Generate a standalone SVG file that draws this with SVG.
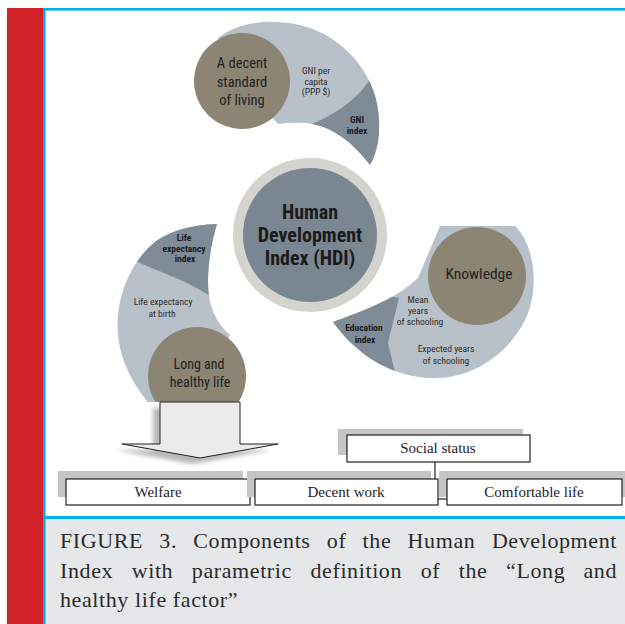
<svg xmlns="http://www.w3.org/2000/svg" width="625" height="624" viewBox="0 0 625 624">
<style>
.fig{font-family:'Liberation Sans Narrow','Roboto Condensed','DejaVu Sans Condensed','Liberation Sans',Arial,sans-serif;fill:#222;text-anchor:middle}
.big{font-size:14.5px}
.sm{font-size:9.5px;fill:#2a2a2a}
.smb{font-size:9.5px;font-weight:bold;fill:#1a1a1a}
.hdi{font-family:'Liberation Sans Narrow','Roboto Condensed','Liberation Sans',Arial,sans-serif;font-size:20px;font-weight:bold;fill:#1a1a1a;text-anchor:middle}
.light{fill:#b8c1ca}
.dark{fill:#7f8b97}
.brown{fill:#8c8574}
.box{fill:#fff;stroke:#222;stroke-width:1.2}
.shadow{fill:#c6c6c6}
.bt{font-family:'Liberation Serif','Times New Roman',serif;font-size:15px;fill:#1c1c30;text-anchor:middle}
.cap{font-family:'Liberation Serif','Times New Roman',serif;font-size:22px;fill:#2b2b2b;letter-spacing:0.6px}
.conn{stroke:#222;stroke-width:1.2;fill:none}
</style>
<defs>
<clipPath id="figclip"><rect x="45" y="10" width="580" height="392"/></clipPath>
<path id="topShape" d="M218,38 C238,22 275,16 310,28 C350,42 378,80 379,120 C380,140 376,155 370,165 C355,145 335,128 312,124 C300,122 290,123 278,124 L242,81 Z"/>
<path id="leftShape" d="M217,224 C212,240 208,262 208,282 C208,305 215,322 230,335 L200,405 L150,405 C125,375 115,345 118,315 C121,285 135,258 155,242 C170,231 190,225 217,224 Z"/>
<path id="rightShape" d="M333,322 C360,312 395,300 418,278 L440,226 L515,226 C535,245 540,290 525,320 C510,350 480,375 440,378 C400,380 360,360 333,322 Z"/>
<clipPath id="cTop"><use href="#topShape"/></clipPath>
<clipPath id="cLeft"><use href="#leftShape"/></clipPath>
<clipPath id="cRight"><use href="#rightShape"/></clipPath>
<filter id="blur" x="-20%" y="-20%" width="140%" height="140%"><feGaussianBlur stdDeviation="2"/></filter>
</defs>

<!-- frame -->
<rect x="45" y="10" width="580" height="507" fill="#fff"/>
<rect x="45" y="519" width="580" height="105" fill="#e6e7e9"/>
<rect x="7" y="8" width="36" height="616" fill="#d2232a"/>
<rect x="43" y="8" width="582" height="2.6" fill="#00aeef"/>
<rect x="43" y="8" width="2.6" height="616" fill="#00aeef"/>
<rect x="45" y="516" width="580" height="3" fill="#00aeef"/>

<g clip-path="url(#figclip)">
<g id="standard-of-living">
<use href="#topShape" class="light"/>
<path class="dark" clip-path="url(#cTop)" d="M312,124 C335,114 358,100 372,76 L400,60 L400,200 L300,200 Z"/>
<circle class="brown" cx="242" cy="81" r="48"/>
<text class="fig big"><tspan x="242" y="68">A decent</tspan><tspan x="242" y="87">standard</tspan><tspan x="242" y="105">of living</tspan></text>
<text class="fig sm"><tspan x="316" y="74">GNI per</tspan><tspan x="316" y="85">capita</tspan><tspan x="316" y="95">(PPP $)</tspan></text>
<text class="fig smb"><tspan x="357" y="123">GNI</tspan><tspan x="357" y="134">index</tspan></text>
</g>

<g id="hdi">
<circle cx="310" cy="235" r="77" fill="#d5d3cd"/>
<circle cx="310" cy="235" r="67" fill="#7a8692"/>
<text class="hdi"><tspan x="310" y="219">Human</tspan><tspan x="310" y="242">Development</tspan><tspan x="310" y="265">Index (HDI)</tspan></text>
</g>

<g id="long-healthy-life">
<use href="#leftShape" class="light"/>
<path class="dark" clip-path="url(#cLeft)" d="M128,258 C160,272 190,282 210,296 L240,200 L100,200 Z"/>
<circle class="brown" cx="197" cy="376" r="49"/>
<text class="fig smb"><tspan x="184" y="241">Life</tspan><tspan x="184" y="252">expectancy</tspan><tspan x="185" y="262">index</tspan></text>
<text class="fig sm"><tspan x="163" y="305">Life expectancy</tspan><tspan x="162" y="317">at birth</tspan></text>
<text class="fig" style="font-size:14px"><tspan x="199" y="369">Long and</tspan><tspan x="200" y="387">healthy life</tspan></text>
</g>

<g id="knowledge">
<use href="#rightShape" class="light"/>
<path class="dark" clip-path="url(#cRight)" d="M399,298 L388,343 L398,385 L300,400 L300,280 Z"/>
<circle class="brown" cx="477" cy="276" r="49"/>
<text class="fig" style="font-size:15.5px" x="479" y="279">Knowledge</text>
<text class="fig sm"><tspan x="418" y="303">Mean</tspan><tspan x="418" y="314">years</tspan><tspan x="420" y="325">of schooling</tspan></text>
<text class="fig smb"><tspan x="364" y="331">Education</tspan><tspan x="365" y="343">index</tspan></text>
<text class="fig sm"><tspan x="446" y="352">Expected years</tspan><tspan x="446" y="364">of schooling</tspan></text>
</g>
</g>

<g id="arrow">
<path d="M160,402 L240,402 L240,444 L278,444 L200,458 L122,444 L160,444 Z" transform="translate(-7,6)" fill="#b8b8b8" filter="url(#blur)"/>
<path d="M160,402 L240,402 L240,444 L278,444 L200,458 L122,444 L160,444 Z" fill="#ebebeb" stroke="#222" stroke-width="1"/>
</g>

<g id="connectors">
<line class="conn" x1="435" y1="462" x2="435" y2="480"/>
<line class="conn" x1="438" y1="499" x2="447" y2="499" stroke-width="1.6"/>
<line x1="250" y1="492" x2="255" y2="492" stroke="#888" stroke-width="1"/>
</g>

<g id="social-status">
<rect class="shadow" x="338" y="429" width="185" height="26"/>
<rect class="box" x="347" y="435" width="183" height="27"/>
<text class="bt" x="438" y="453">Social status</text>
</g>
<g id="welfare">
<rect class="shadow" x="58" y="471" width="185" height="26"/>
<rect class="box" x="66" y="479" width="184" height="26"/>
<text class="bt" x="158" y="497">Welfare</text>
</g>
<g id="decent-work">
<rect class="shadow" x="247" y="471" width="184" height="26"/>
<rect class="box" x="255" y="479" width="183" height="26"/>
<text class="bt" x="346" y="497">Decent work</text>
</g>
<g id="comfortable-life">
<rect class="shadow" x="439" y="471" width="186" height="26"/>
<rect class="box" x="447" y="479" width="175" height="26"/>
<text class="bt" x="534" y="497">Comfortable life</text>
</g>

<g id="caption" class="cap">
<text y="548"><tspan x="60">FIGURE</tspan><tspan x="159.3">3.</tspan><tspan x="193.3">Components</tspan><tspan x="326.8">of</tspan><tspan x="362.6">the</tspan><tspan x="407.6">Human</tspan></text>
<text y="548" x="617" text-anchor="end">Development</text>
<text y="578"><tspan x="60">Index</tspan><tspan x="131.7">with</tspan><tspan x="191.8">parametric</tspan><tspan x="310.5">definition</tspan><tspan x="420.7">of</tspan><tspan x="458.8">the</tspan><tspan x="506.1">“Long</tspan></text>
<text y="578" x="617" text-anchor="end">and</text>
<text y="607" x="60">healthy life factor”</text>
</g>
</svg>
